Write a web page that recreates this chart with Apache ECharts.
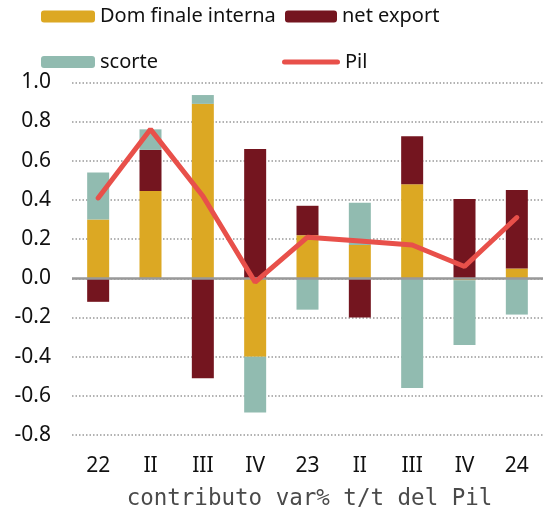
<!DOCTYPE html>
<html lang="it">
<head>
  <meta charset="UTF-8">
  <title>contributo var% t/t del Pil</title>
  <style>
    * { margin: 0; padding: 0; }
    #main { width: 543px; height: 514px; background: #fff; }
  </style>
</head>
<body>
  <div id="main"></div>
  <script src="https://cdn.jsdelivr.net/npm/echarts@6/dist/echarts.min.js"></script>
  <script>
    // dati
    const quarters = ['22', 'II', 'III', 'IV', '23', 'II', 'III', 'IV', '24']
    const domFinale = [0.30, 0.445, 0.89, -0.40, 0.22, 0.17, 0.48, -0.01, 0.05]
    const netExport = [-0.12, 0.21, -0.51, 0.66, 0.15, -0.20, 0.245, 0.405, 0.40]
    const scorte = [0.24, 0.105, 0.045, -0.285, -0.16, 0.215, -0.56, -0.33, -0.185]
    const pil = [0.41, 0.76, 0.42, -0.02, 0.21, 0.19, 0.17, 0.06, 0.31]

    const font = 'Noto Sans'
    const chart = echarts.init(document.getElementById('main'))

    // una legenda per ogni voce, così si posizionano a due colonne
    function legendAt(name, left, top, w, h, icon) {
      return {
        data: [icon ? { name: name, icon: icon } : name],
        left: left,
        top: top,
        padding: 0,
        itemWidth: w,
        itemHeight: h,
        itemGap: 0,
        selectedMode: false,
        textStyle: { fontFamily: font, fontSize: 20, color: '#111' }
      }
    }

    // icona a capsula per la linea del Pil
    const capsule = 'path://M2.5,0 H55.5 A2.5,2.5 0 0 1 55.5,5 H2.5 A2.5,2.5 0 0 1 2.5,0 Z'

    const option = {
      animation: false,
      legend: [
        legendAt('Dom finale interna', 41, 6.5, 54, 12),
        legendAt('net export', 285, 6.5, 52, 12),
        legendAt('scorte', 41, 52, 54, 12),
        legendAt('Pil', 282, 52, 58, 5, capsule)
      ],
      grid: { left: 72, right: -6, top: 82.3, bottom: 78.9 },
      xAxis: {
        type: 'category',
        data: quarters,
        axisLine: { show: false, onZero: false },
        axisTick: { show: false },
        axisLabel: { fontFamily: font, fontSize: 21, color: '#111', margin: 20 }
      },
      yAxis: {
        type: 'value',
        min: -0.8,
        max: 1,
        interval: 0.2,
        axisLine: { show: false },
        axisTick: { show: false },
        axisLabel: {
          fontFamily: font, fontSize: 21, color: '#111', margin: 21,
          formatter: v => v.toFixed(1)
        },
        splitLine: { lineStyle: { color: '#999', width: 1.5, type: [1.5, 2] } }
      },
      graphic: [{
        type: 'text',
        x: 309.5,
        y: 499,
        style: {
          text: 'contributo var% t/t del Pil',
          font: '22.5px "DejaVu Sans Mono"',
          fill: '#4a4a4a',
          align: 'center',
          verticalAlign: 'middle'
        }
      }],
      series: [
        {
          name: 'Dom finale interna',
          type: 'bar',
          stack: 'c',
          barWidth: 22,
          itemStyle: { color: '#DCA823' },
          data: domFinale,
          markLine: {
            silent: true,
            symbol: ['none', 'none'],
            label: { show: false },
            lineStyle: { color: '#999', width: 2.5, type: 'solid' },
            data: [{ yAxis: 0 }]
          }
        },
        {
          name: 'net export',
          type: 'bar',
          stack: 'c',
          itemStyle: { color: '#74151F' },
          data: netExport
        },
        {
          name: 'scorte',
          type: 'bar',
          stack: 'c',
          itemStyle: { color: '#91BBB0' },
          data: scorte
        },
        {
          name: 'Pil',
          type: 'line',
          symbol: 'none',
          z: 5,
          lineStyle: { color: '#E8504A', width: 5, cap: 'round' },
          itemStyle: { color: '#E8504A' },
          data: pil
        }
      ]
    }
    chart.setOption(option)
  </script>
</body>
</html>
